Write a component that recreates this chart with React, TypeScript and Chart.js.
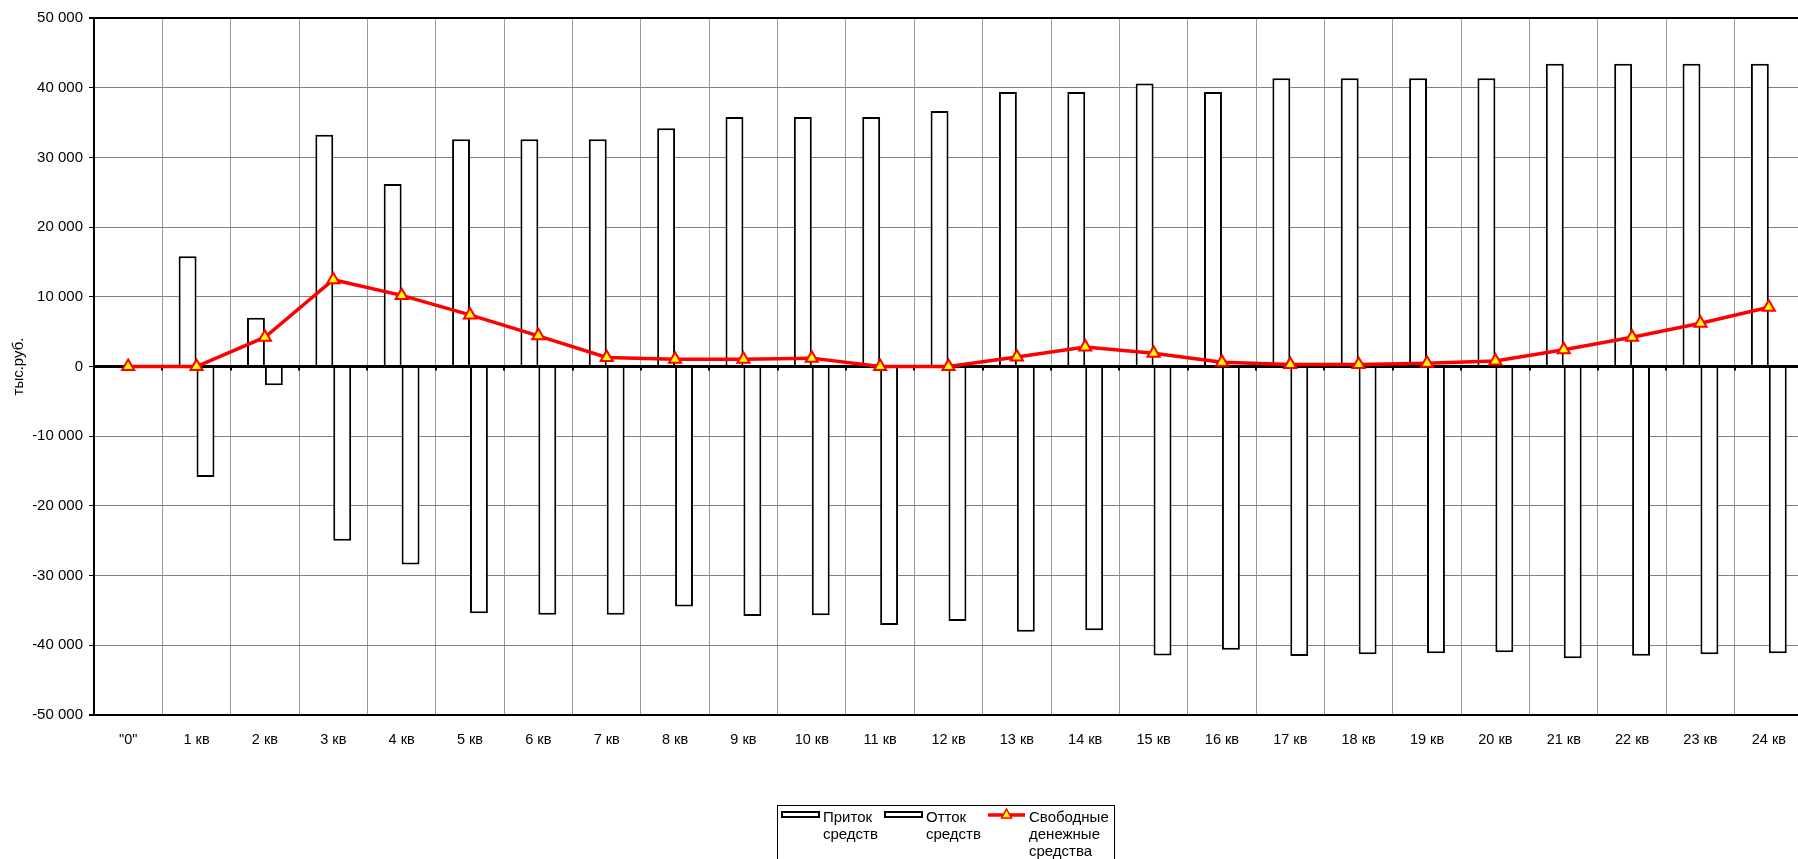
import React, { useEffect, useRef } from "react";
import { Chart, registerables } from "chart.js";

Chart.register(...registerables);

const categories = [
  '"0"', "1 кв", "2 кв", "3 кв", "4 кв", "5 кв", "6 кв", "7 кв", "8 кв", "9 кв",
  "10 кв", "11 кв", "12 кв", "13 кв", "14 кв", "15 кв", "16 кв", "17 кв", "18 кв",
  "19 кв", "20 кв", "21 кв", "22 кв", "23 кв", "24 кв",
];

const inflow = [
  0, 15800, 7000, 33250, 26200, 32600, 32600, 32600, 34200, 35800, 35800, 35800, 36650,
  39400, 39400, 40600, 39400, 41350, 41350, 41350, 41350, 43450, 43450, 43450, 43450,
];

const outflow = [
  0, -15850, -2700, -25000, -28400, -35400, -35600, -35600, -34450, -35800, -35700, -37100, -36500,
  -38050, -37850, -41450, -40650, -41550, -41300, -41150, -41000, -41850, -41500, -41300, -41150,
];

const freeCash = [
  0, 0, 4200, 12450, 10200, 7400, 4400, 1300, 1050, 1050, 1200, 0, 0,
  1350, 2800, 1900, 600, 300, 300, 480, 800, 2400, 4200, 6200, 8500,
];

const seriesNames = ["Приток средств", "Отток средств", "Свободные денежные средства"];
const legendLines = [["Приток", "средств"], ["Отток", "средств"], ["Свободные", "денежные", "средства"]];
const yAxisTitle = "тыс.руб.";
const yMin = -50000;
const yMax = 50000;
const yStep = 10000;

const FONT = "'Liberation Sans', Arial, sans-serif";

function fmt(v: number): string {
  const s = Math.abs(v).toString().replace(/\B(?=(\d{3})+(?!\d))/g, " ");
  return (v < 0 ? "-" : "") + s;
}

const zeroLinePlugin = {
  id: "zeroLine",
  beforeDatasetDraw(chart: any, args: any) {
    if (args.index !== 2) return;
    const { ctx, chartArea, scales } = chart;
    const y0 = scales.y.getPixelForValue(0);
    ctx.save();
    ctx.strokeStyle = "#000";
    ctx.lineWidth = 3;
    ctx.beginPath();
    ctx.moveTo(chartArea.left, y0);
    ctx.lineTo(chartArea.right, y0);
    ctx.stroke();
    const n = categories.length;
    const w = (chartArea.right - chartArea.left) / n;
    ctx.lineWidth = 2;
    for (let i = 0; i <= n; i++) {
      const px = Math.round(chartArea.left + i * w);
      ctx.beginPath();
      ctx.moveTo(px, y0);
      ctx.lineTo(px, y0 + 4);
      ctx.stroke();
    }
    ctx.restore();
  },
};

const legendPlugin = {
  id: "customLegend",
  afterDraw(chart: any) {
    const ctx = chart.ctx;
    ctx.save();
    ctx.strokeStyle = "#000";
    ctx.lineWidth = 1;
    ctx.strokeRect(777.5, 805.5, 337, 70);
    ctx.font = `15px ${FONT}`;
    ctx.textBaseline = "middle";
    ctx.textAlign = "left";
    const items = [
      { sx: 782, ex: 819, tx: 823 },
      { sx: 885, ex: 922, tx: 926 },
      { sx: 988, ex: 1025, tx: 1029 },
    ];
    items.forEach((it, i) => {
      if (i < 2) {
        ctx.fillStyle = "#fff";
        ctx.fillRect(it.sx, 812, it.ex - it.sx, 5);
        ctx.strokeStyle = "#000";
        ctx.lineWidth = 2;
        ctx.strokeRect(it.sx, 812, it.ex - it.sx, 5);
      } else {
        ctx.strokeStyle = "#ff0000";
        ctx.lineWidth = 3.5;
        ctx.beginPath();
        ctx.moveTo(it.sx, 815);
        ctx.lineTo(it.ex, 815);
        ctx.stroke();
        const cx = (it.sx + it.ex) / 2;
        ctx.beginPath();
        ctx.moveTo(cx, 809);
        ctx.lineTo(cx + 5, 818);
        ctx.lineTo(cx - 5, 818);
        ctx.closePath();
        ctx.fillStyle = "#ffff00";
        ctx.fill();
        ctx.lineWidth = 1.5;
        ctx.stroke();
      }
      ctx.fillStyle = "#000";
      legendLines[i].forEach((t, j) => {
        ctx.fillText(t, it.tx, 818 + j * 17);
      });
    });
    ctx.restore();
  },
};

export default function App() {
  const ref = useRef<HTMLCanvasElement | null>(null);

  useEffect(() => {
    if (!ref.current) return;
    const chart = new Chart(ref.current, {
      type: "bar",
      data: {
        labels: categories,
        datasets: [
          {
            type: "bar",
            label: seriesNames[0],
            data: inflow,
            backgroundColor: "#ffffff",
            borderColor: "#000000",
            borderWidth: 2,
            borderSkipped: "start",
            categoryPercentage: 0.524,
            barPercentage: 1.0,
            order: 1,
          },
          {
            type: "bar",
            label: seriesNames[1],
            data: outflow,
            backgroundColor: "#ffffff",
            borderColor: "#000000",
            borderWidth: 2,
            borderSkipped: "start",
            categoryPercentage: 0.524,
            barPercentage: 1.0,
            order: 1,
          },
          {
            type: "line",
            label: seriesNames[2],
            data: freeCash,
            borderColor: "#ff0000",
            borderWidth: 3.5,
            pointStyle: "triangle",
            pointRadius: 7,
            pointBackgroundColor: "#ffff00",
            pointBorderColor: "#ff0000",
            pointBorderWidth: 2,
            tension: 0,
            order: 0,
          } as any,
        ],
      },
      options: {
        responsive: false,
        animation: false,
        devicePixelRatio: 1,
        layout: { padding: { top: 18, left: 0, right: 0, bottom: 0 } },
        plugins: {
          legend: { display: false },
          tooltip: { enabled: false },
        },
        scales: {
          x: {
            offset: true,
            grid: {
              offset: true,
              color: "#9a9a9a",
              lineWidth: 1,
              drawTicks: false,
            },
            border: { display: true, color: "#000", width: 2 },
            ticks: {
              color: "#000",
              font: { family: FONT, size: 14.5 },
              padding: 16,
              maxRotation: 0,
              autoSkip: false,
            },
            afterFit: (s: any) => {
              s.height = 144;
            },
          },
          y: {
            min: yMin,
            max: yMax,
            grid: {
              color: (c: any) => {
                const v = c.tick ? c.tick.value : 0;
                if (v === 0 || v === yMax || v === yMin) return "#000";
                return "#808080";
              },
              lineWidth: (c: any) => {
                const v = c.tick ? c.tick.value : 0;
                if (v === yMax || v === yMin) return 2;
                return 1;
              },
              tickColor: "#000",
              tickLength: 5,
            },
            border: { display: true, color: "#000", width: 2 },
            ticks: {
              stepSize: yStep,
              color: "#000",
              font: { family: FONT, size: 15 },
              padding: 6,
              callback: (v: any) => fmt(Number(v)),
            },
            title: {
              display: true,
              text: yAxisTitle,
              color: "#000",
              font: { family: FONT, size: 15 },
              padding: { top: 10, bottom: 0 },
            },
            afterFit: (s: any) => {
              s.width = 94;
            },
          },
        },
      },
      plugins: [zeroLinePlugin, legendPlugin],
    });
    return () => chart.destroy();
  }, []);

  return (
    <div
      style={{
        position: "fixed",
        left: 0,
        top: 0,
        width: 1798,
        height: 859,
        overflow: "hidden",
        background: "#fff",
      }}
    >
      <canvas ref={ref} width={1812} height={859} style={{ width: 1812, height: 859, display: "block" }} />
    </div>
  );
}
